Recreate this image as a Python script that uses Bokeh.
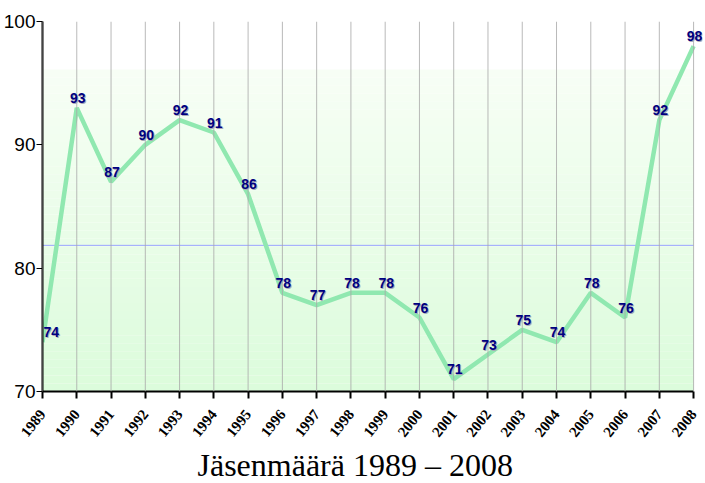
import numpy as np
from bokeh.plotting import figure
from bokeh.models import (ColumnDataSource, Range1d, FixedTicker, LabelSet, Span, Title)
from bokeh.core.properties import value
from bokeh.embed import file_html
from bokeh.resources import INLINE

years = [1989, 1990, 1991, 1992, 1993, 1994, 1995, 1996, 1997, 1998,
         1999, 2000, 2001, 2002, 2003, 2004, 2005, 2006, 2007, 2008]
members = [74, 93, 87, 90, 92, 91, 86, 78, 77, 78,
           78, 76, 71, 73, 75, 74, 78, 76, 92, 98]
year_labels = [str(y) for y in years]
y_ticks = [70, 80, 90, 100]
title_text = "Jäsenmäärä 1989 – 2008"

mean_val = float(np.mean(members))

p = figure(width=703, height=483, output_backend="svg", toolbar_location=None,
           x_range=Range1d(years[0], years[-1] + 0.26), y_range=Range1d(70, 100),
           min_border_left=40, min_border_right=1, min_border_top=21,
           min_border_bottom=89)
p.outline_line_color = None
p.background_fill_color = "white"
p.border_fill_color = "white"
p.xgrid.visible = False
p.ygrid.visible = False

# gradient background (style only)
g_top = 96.1
n = 40
edges = np.linspace(70, g_top, n + 1)
c0 = np.array([0xdc, 0xfc, 0xdc])
c1 = np.array([0xf8, 0xff, 0xf6])
cols = []
for i in range(n):
    t = (i + 0.5) / n
    c = (c0 * (1 - t) + c1 * t).astype(int)
    cols.append("#%02x%02x%02x" % tuple(c))
p.quad(left=years[0], right=years[-1], bottom=edges[:-1], top=edges[1:],
       fill_color=cols, line_color=None)

# vertical grid lines
for yv in years:
    p.add_layout(Span(location=yv, dimension="height", line_color="#a8a8a8",
                      line_alpha=0.8, line_width=1))

# mean line
p.line([years[0], years[-1]], [mean_val, mean_val], line_color="#9aa4ff",
       line_width=1)

src = ColumnDataSource(dict(x=years, y=members, lab=[str(m) for m in members],
                            align=["left"] + ["center"] * (len(years) - 1)))
p.line("x", "y", source=src, line_color="#90e8b0", line_width=4.5)

lab_font = value("Liberation Sans")
shadow = LabelSet(x="x", y="y", text="lab", source=src, text_align="align",
                  text_baseline="bottom", x_offset=2, y_offset=4,
                  text_font=lab_font, text_font_size=value("14px"),
                  text_font_style=value("bold"), text_color=value("#a8a8b8"))
labels = LabelSet(x="x", y="y", text="lab", source=src, text_align="align",
                  text_baseline="bottom", x_offset=1, y_offset=5,
                  text_font=lab_font, text_font_size=value("14px"),
                  text_font_style=value("bold"), text_color=value("#000080"))
p.add_layout(shadow)
p.add_layout(labels)

p.xaxis.ticker = FixedTicker(ticks=years)
p.xaxis.bounds = (years[0], years[-1])
p.xaxis.major_label_overrides = {y: s for y, s in zip(years, year_labels)}
p.xaxis.major_label_orientation = 0.9
p.xaxis.major_label_text_font = "Liberation Serif"
p.xaxis.major_label_text_font_style = "bold"
p.xaxis.major_label_text_font_size = "15px"
p.xaxis.major_label_text_color = "black"
p.xaxis.major_tick_out = 7
p.xaxis.major_tick_in = 0
p.xaxis.minor_tick_line_color = None
p.xaxis.axis_line_width = 2
p.xaxis.major_tick_line_width = 2
p.xaxis.major_label_standoff = 13

p.yaxis.ticker = FixedTicker(ticks=y_ticks)
p.yaxis.major_label_text_font = "Liberation Sans"
p.yaxis.major_label_text_font_size = "19px"
p.yaxis.major_label_text_color = "black"
p.yaxis.major_tick_out = 6
p.yaxis.major_tick_in = 0
p.yaxis.minor_tick_line_color = None
p.yaxis.axis_line_width = 2
p.yaxis.major_label_standoff = 1

t = Title(text=title_text, align="left", text_font="Liberation Serif",
          text_font_size="32px", text_font_style="normal", text_color="black",
          offset=155, standoff=1)
p.add_layout(t, "below")

open("out.html", "w").write(file_html(p, INLINE))
